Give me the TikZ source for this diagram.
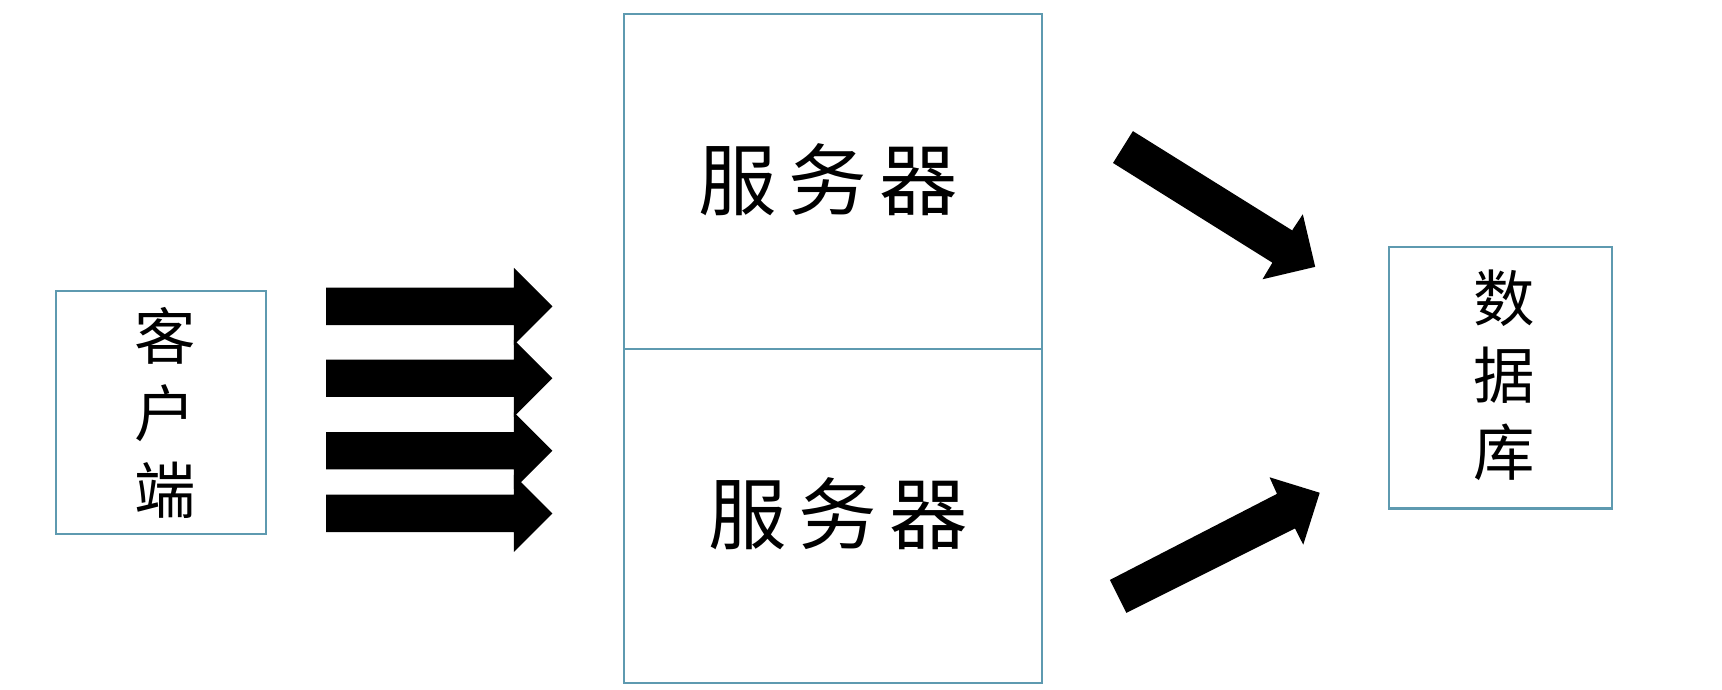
\documentclass[tikz,border=0pt]{standalone}
\usepackage{fontspec}
\newfontfamily\cjk{Noto Sans CJK SC}
\definecolor{boxcol}{RGB}{94,154,176}
\begin{document}
\begin{tikzpicture}[x=0.01cm,y=-0.01cm,
  box/.style={draw=boxcol, line width=0.6pt, inner sep=0, outer sep=0},
  vlabel/.style={align=center, font=\cjk\fontsize{15.9pt}{19.9pt}\selectfont, inner sep=0},
  slabel/.style={font=\cjk\fontsize{20.3pt}{24pt}\selectfont, inner sep=0},
  blk/.style={fill=black},
  harrow/.pic={\fill[blk] (0,-17) -- (171,-17) -- (171,-35) -- (206,0) -- (171,35) -- (171,17) -- (0,17) -- cycle;}]
\useasboundingbox (0,0) rectangle (1568,628);
% boxes
\draw[box] (51,265) rectangle (242,486);
\draw[box] (568,13) rectangle (949,318);
\draw[box] (568,318) rectangle (949,622);
\draw[box] (1265,225) rectangle (1468,463);
% labels
\node[vlabel] (client) at (150,376) {客\\户\\端};
\node[vlabel] (db) at (1370,342) {数\\据\\库};
\node[slabel] (srv1) at (754,164) {服\hspace{0.11cm}务\hspace{0.11cm}器};
\node[slabel] (srv2) at (763,468) {服\hspace{0.11cm}务\hspace{0.11cm}器};
% horizontal block arrows
\pic (a1) at (297,279) {harrow};
\pic (a2) at (297,344.5) {harrow};
\pic (a3) at (297,410.4) {harrow};
\pic (a4) at (297,467.5) {harrow};
% diagonal block arrows
\fill[blk] (1031.6,119.4) -- (1176.6,209.8) -- (1186.3,195.1) -- (1197.6,243) -- (1149.6,254.3) -- (1158.6,239.2) -- (1013.5,148.4) -- cycle;
\fill[blk] (1010.6,528.1) -- (1162.8,449.7) -- (1156,434.6) -- (1201.7,448.7) -- (1186.7,496) -- (1179.2,481.2) -- (1025.6,558.1) -- cycle;
\end{tikzpicture}
\end{document}
